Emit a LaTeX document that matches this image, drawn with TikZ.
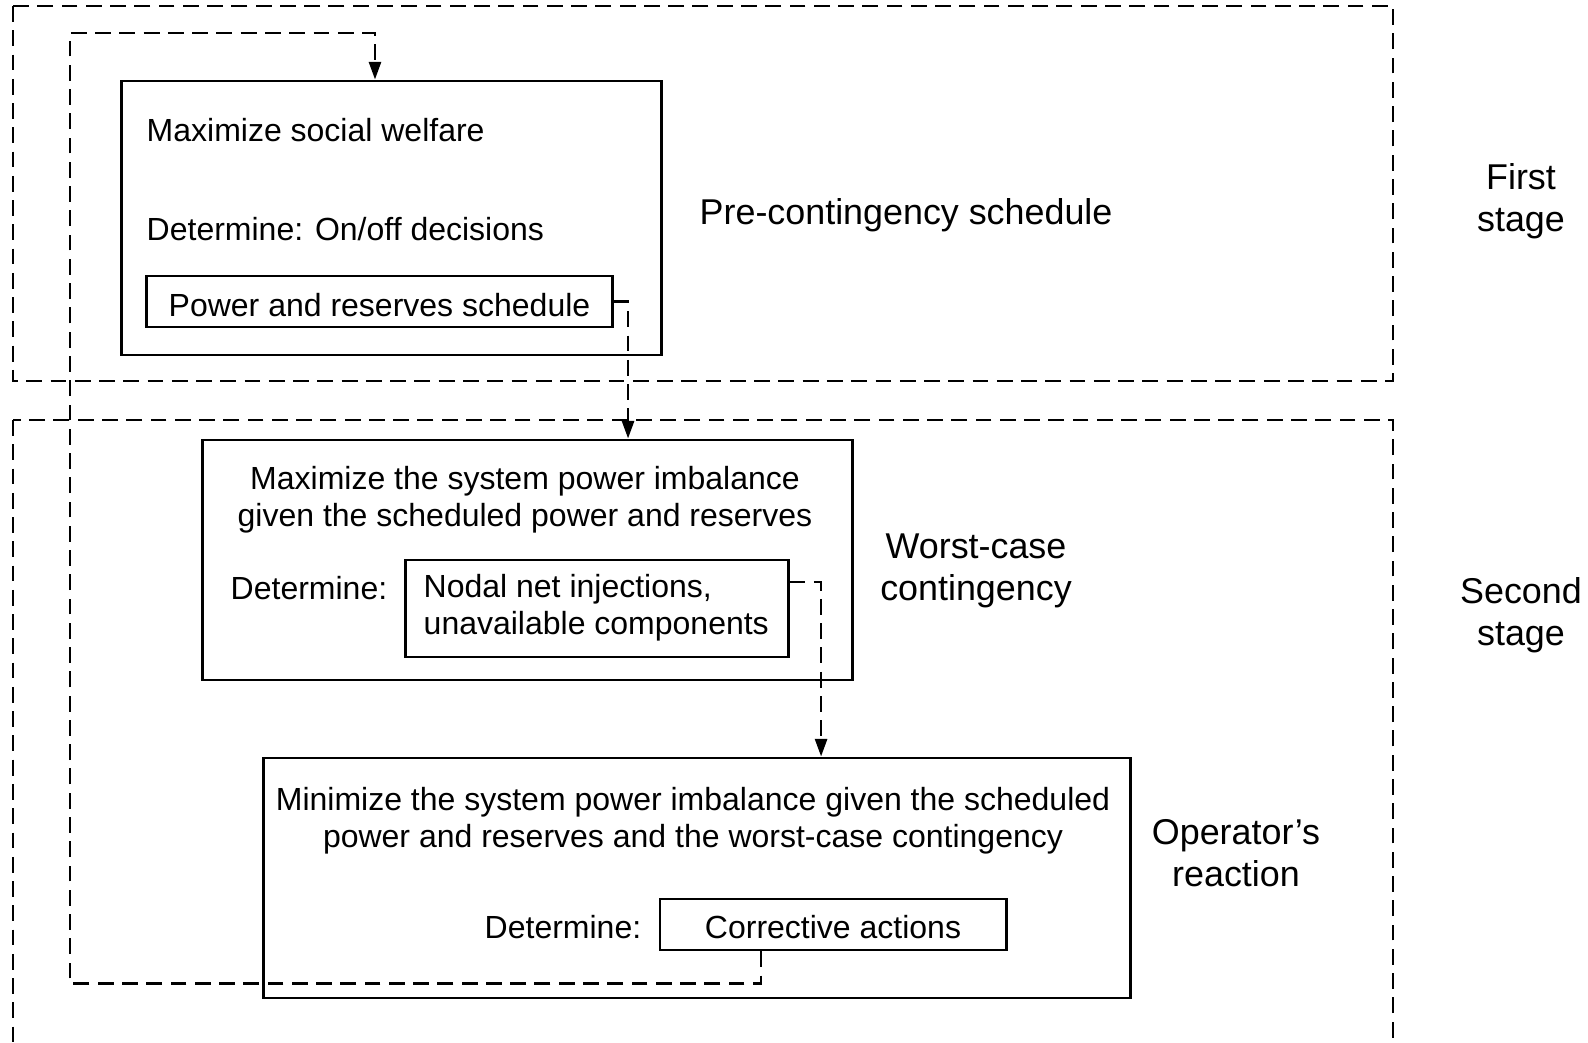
\documentclass[tikz,border=0pt]{standalone}
\usepackage{fontspec}
\setmainfont{Liberation Sans}
\usetikzlibrary{arrows.meta}

\begin{document}
\begin{tikzpicture}[x=0.01cm, y=-0.01cm,
    box/.style={draw, line width=0.8pt, inner sep=0pt},
    txt/.style={font=\fontsize{9.1}{10.6}\selectfont, inner sep=0pt, align=center},
    lbl/.style={font=\fontsize{10.2}{11.8}\selectfont, inner sep=0pt, align=center},
    stage/.style={line width=0.75pt, dash pattern=on 4.5pt off 2.4pt},
    flow/.style={line width=0.75pt, dash pattern=on 4.5pt off 2.4pt,
      -{Triangle[length=5pt,width=3.4pt]}}]
  % Page
  \clip (0,0) rectangle (1588,1043);

  % Stage frames
  \draw[stage] (13,6) rectangle (1393,381);
  \draw[stage] (13,420) rectangle (1393,1070);
  \node[lbl] (first) at (1521,201) {First\\stage};
  \node[lbl] (second) at (1521,615) {Second\\stage};

  % Pre-contingency schedule
  \node[box, minimum width=5.39cm, minimum height=2.74cm] (boxA) at (391.5,218) {};
  \node[txt, anchor=west] (welfare) at (146,130) {Maximize social welfare};
  \node[txt, anchor=west] (onoff) at (146,229) {Determine: On/off decisions};
  \node[box, txt, text height=8.3pt, text depth=0pt,
    minimum width=4.65cm, minimum height=0.51cm] (innerA) at (379.5,301.5)
    {Power and reserves schedule};
  \node[lbl, anchor=west] (precont) at (699,215) {Pre-contingency schedule};

  % Worst-case contingency
  \node[box, minimum width=6.49cm, minimum height=2.4cm] (boxB) at (527.5,560) {};
  \node[txt] (imbmax) at (525,499.5)
    {Maximize the system power imbalance\\given the scheduled power and reserves};
  \node[txt, anchor=west] (detB) at (230,588) {Determine:};
  \node[box, minimum width=3.82cm, minimum height=0.97cm] (innerB) at (597,608.5) {};
  \node[txt, align=left, anchor=west] (inj) at (423,608)
    {Nodal net injections,\\unavailable components};
  \node[lbl] (worst) at (976,571) {Worst-case\\contingency};

  % Operator's reaction
  \node[box, minimum width=8.66cm, minimum height=2.4cm] (boxC) at (697,878) {};
  \node[txt] (imbmin) at (693,820.5)
    {Minimize the system power imbalance given the scheduled\\power and reserves and the worst-case contingency};
  \node[txt, anchor=west] (detC) at (484,927) {Determine:};
  \node[box, txt, text height=7.9pt, text depth=0pt,
    minimum width=3.46cm, minimum height=0.51cm] (innerC) at (833,924.5)
    {Corrective actions};
  \node[lbl] (react) at (1236,853) {Operator's\\reaction};

  % Links between the problems
  \coordinate (back) at (70,33);
  \draw[flow] (innerA.east) -| ([xshift=1.005cm]boxB.north);
  \draw[flow] ([yshift=0.265cm]innerB.east) -| ([xshift=1.24cm]boxC.north);
  \draw[flow] ([xshift=-0.72cm]innerC.south) -- ++(0,32) -| (back)
    -| ([xshift=-0.165cm]boxA.north);

\end{tikzpicture}
\end{document}
